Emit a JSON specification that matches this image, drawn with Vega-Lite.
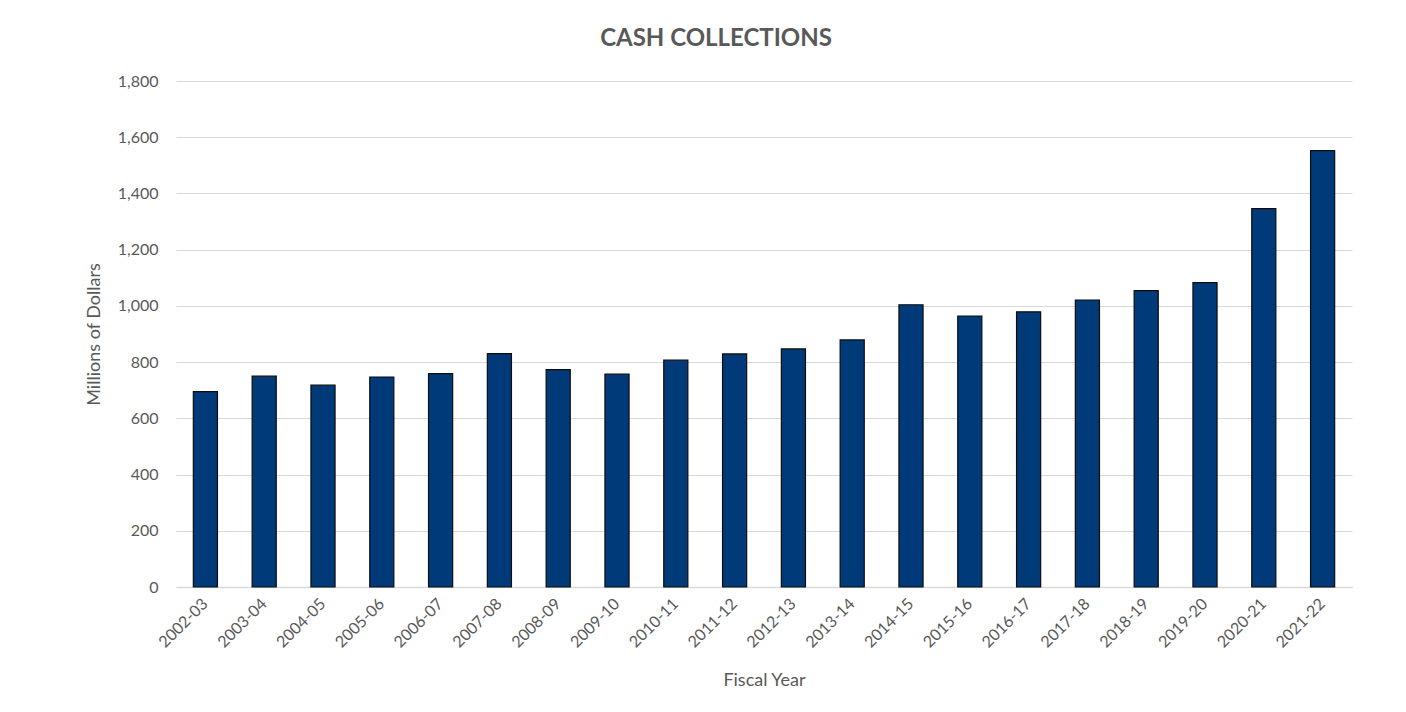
{
  "$schema": "https://vega.github.io/schema/vega-lite/v6.json",
  "width": 1176,
  "height": 506,
  "autosize": {"type": "none"},
  "padding": {"left": 176, "top": 81, "right": 54, "bottom": 125},
  "background": "white",
  "title": {
    "text": "CASH COLLECTIONS",
    "font": "Lato",
    "fontSize": 24,
    "fontWeight": "bold",
    "color": "#595959",
    "anchor": "middle",
    "frame": "group",
    "dx": -48,
    "offset": 22
  },
  "data": {
    "values": [
      {"year": "2002-03", "value": 695},
      {"year": "2003-04", "value": 750},
      {"year": "2004-05", "value": 718},
      {"year": "2005-06", "value": 747},
      {"year": "2006-07", "value": 759},
      {"year": "2007-08", "value": 830},
      {"year": "2008-09", "value": 773},
      {"year": "2009-10", "value": 757},
      {"year": "2010-11", "value": 807},
      {"year": "2011-12", "value": 829},
      {"year": "2012-13", "value": 847},
      {"year": "2013-14", "value": 879},
      {"year": "2014-15", "value": 1004},
      {"year": "2015-16", "value": 964},
      {"year": "2016-17", "value": 979},
      {"year": "2017-18", "value": 1021},
      {"year": "2018-19", "value": 1054},
      {"year": "2019-20", "value": 1083},
      {"year": "2020-21", "value": 1346},
      {"year": "2021-22", "value": 1552}
    ]
  },
  "mark": {"type": "bar", "color": "#003a78", "stroke": "#0d0d0d", "strokeWidth": 1.2},
  "encoding": {
    "x": {
      "field": "year",
      "type": "ordinal",
      "sort": null,
      "scale": {"paddingInner": 0.59, "paddingOuter": 0.295},
      "axis": {
        "title": "Fiscal Year",
        "titleFont": "Lato",
        "titleFontSize": 18,
        "titleFontWeight": "normal",
        "titleColor": "#595959",
        "titlePadding": 21,
        "labelFont": "Lato",
        "labelFontSize": 16,
        "labelColor": "#595959",
        "labelAngle": -45,
        "labelAlign": "right",
        "labelBaseline": "middle",
        "labelPadding": 14,
        "ticks": false,
        "domainColor": "#d9d9d9",
        "domainWidth": 1.5,
        "grid": false
      }
    },
    "y": {
      "field": "value",
      "type": "quantitative",
      "scale": {"domain": [0, 1800], "nice": false},
      "axis": {
        "title": "Millions of Dollars",
        "titleFont": "Lato",
        "titleFontSize": 18,
        "titleFontWeight": "normal",
        "titleColor": "#595959",
        "titlePadding": 14,
        "values": [0, 200, 400, 600, 800, 1000, 1200, 1400, 1600, 1800],
        "format": ",d",
        "labelFont": "Lato",
        "labelFontSize": 16,
        "labelColor": "#595959",
        "labelPadding": 18,
        "ticks": false,
        "domain": false,
        "grid": true,
        "gridColor": "#d9d9d9",
        "gridWidth": 1.2
      }
    }
  },
  "config": {"view": {"stroke": null}}
}
